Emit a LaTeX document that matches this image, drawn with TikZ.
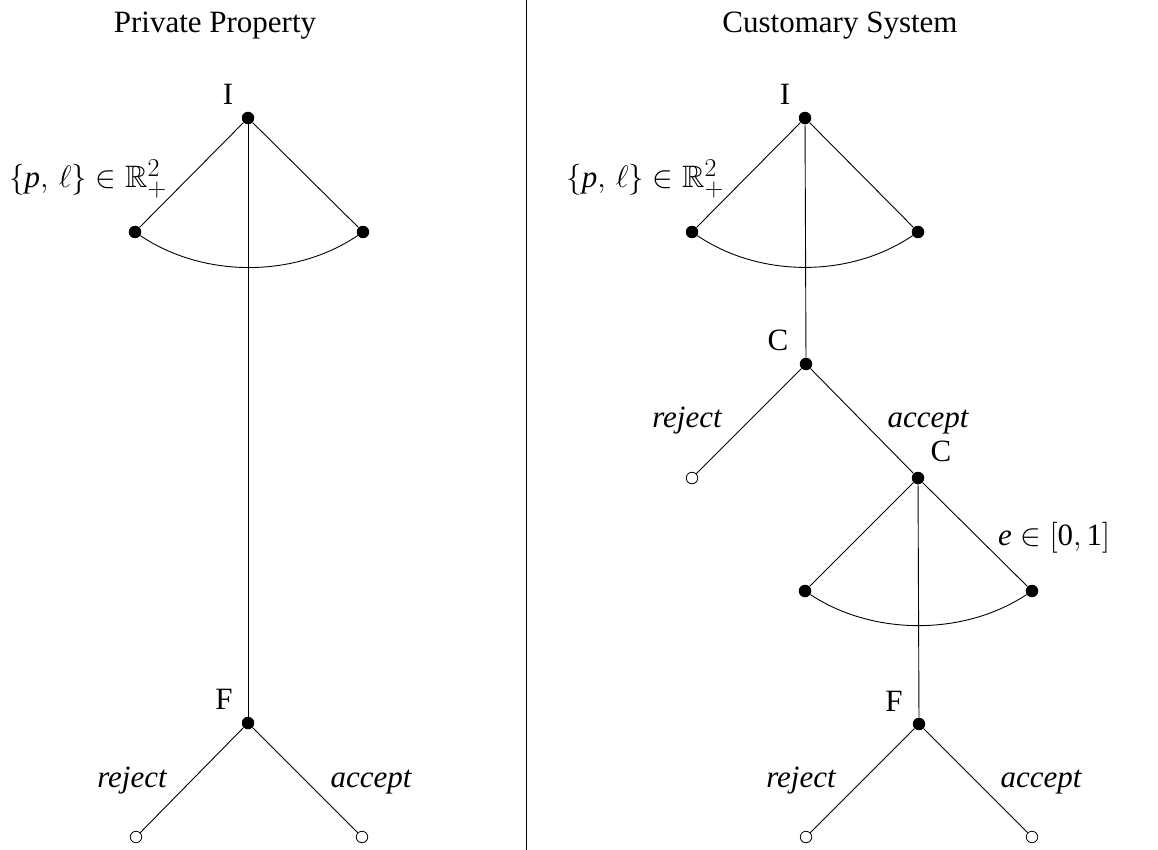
\documentclass[tikz,border=0pt]{standalone}
\usepackage{amssymb}
\usepackage{fontspec}
\setmainfont{Liberation Serif}
\begin{document}
\begin{tikzpicture}[x=1pt,y=-1pt,
  decnode/.style={circle,fill=black,draw=none,inner sep=0pt,minimum size=12.5pt},
  termnode/.style={circle,draw=black,fill=white,inner sep=0pt,minimum size=11.5pt,line width=0.8pt},
  branch/.style={line width=0.9pt},
  info/.style={line width=0.9pt},
  lbl/.style={font=\fontsize{31}{36}\selectfont,inner sep=0pt},
  mathlbl/.style={font=\fontsize{24.88}{30}\selectfont,inner sep=0pt,scale=1.246},
  actlbl/.style={font=\fontsize{31}{36}\selectfont\itshape,inner sep=0pt,anchor=base},
  ]
\useasboundingbox (0,0) rectangle (1158,850);

% divider
\coordinate (divtop) at (526,0);
\coordinate (divbot) at (526,850);
\draw[line width=0.8pt] (divtop) -- (divbot);

% titles
\node[lbl,anchor=base] (t1) at (215,33) {Private Property};
\node[lbl,anchor=base] (t2) at (840,33) {Customary System};

% ---------- Left tree ----------
\node[decnode] (LI) at (248,118) {};
\node[decnode] (LIa) at (135,232) {};
\node[decnode] (LIb) at (363,232) {};
\node[decnode] (LF) at (248,723) {};
\node[termnode] (LFr) at (136,837) {};
\node[termnode] (LFa) at (362,837) {};

\draw[branch] (LI) -- (LIa);
\draw[branch] (LI) -- (LIb);
\draw[info] (LIa) .. controls +(68.6,46.2) and +(-68.6,46.2) .. (LIb);
\draw[branch] (LI) -- (LF);
\draw[branch] (LF) -- (LFr);
\draw[branch] (LF) -- (LFa);

\node[lbl] (LIl) at (228,94) {I};
\node[lbl] (LFl) at (224,699) {F};
\node[mathlbl] (LIlab) at (88,179) {$\{\mathit{p},\,\ell\}\in\mathbb{R}^2_+$};
\node[actlbl] (LFrl) at (132,787) {reject};
\node[actlbl] (LFal) at (371,787) {accept};

% ---------- Right tree ----------
\node[decnode] (RI) at (805,118) {};
\node[decnode] (RIa) at (692,232) {};
\node[decnode] (RIb) at (918,232) {};
\node[decnode] (RC) at (806,364) {};
\node[termnode] (RCr) at (692,478) {};
\node[decnode] (RC2) at (918,478) {};
\node[decnode] (RC2a) at (805,591) {};
\node[decnode] (RC2b) at (1032,591) {};
\node[decnode] (RF) at (919,724) {};
\node[termnode] (RFr) at (806,837) {};
\node[termnode] (RFa) at (1032,837) {};

\draw[branch] (RI) -- (RIa);
\draw[branch] (RI) -- (RIb);
\draw[info] (RIa) .. controls +(68,46) and +(-68,46) .. (RIb);
\draw[branch] (RI) -- (RC);
\draw[branch] (RC) -- (RCr);
\draw[branch] (RC) -- (RC2);
\draw[branch] (RC2) -- (RC2a);
\draw[branch] (RC2) -- (RC2b);
\draw[info] (RC2a) .. controls +(68,45) and +(-68,45) .. (RC2b);
\draw[branch] (RC2) -- (RF);
\draw[branch] (RF) -- (RFr);
\draw[branch] (RF) -- (RFa);

\node[lbl] (RIl) at (785,94) {I};
\node[mathlbl] (RIlab) at (645,179) {$\{\mathit{p},\,\ell\}\in\mathbb{R}^2_+$};
\node[lbl] (RCl) at (778,340) {C};
\node[actlbl] (RCrl) at (687,427) {reject};
\node[actlbl] (RCal) at (928,427) {accept};
\node[lbl] (RC2l) at (941,451) {C};
\node[mathlbl] (RC2lab) at (1054,538) {$\mathit{e}\in[\mathrm{0},\mathrm{1}]$};
\node[lbl] (RFl) at (894,701) {F};
\node[actlbl] (RFrl) at (801,787) {reject};
\node[actlbl] (RFal) at (1041,787) {accept};
\end{tikzpicture}
\end{document}
